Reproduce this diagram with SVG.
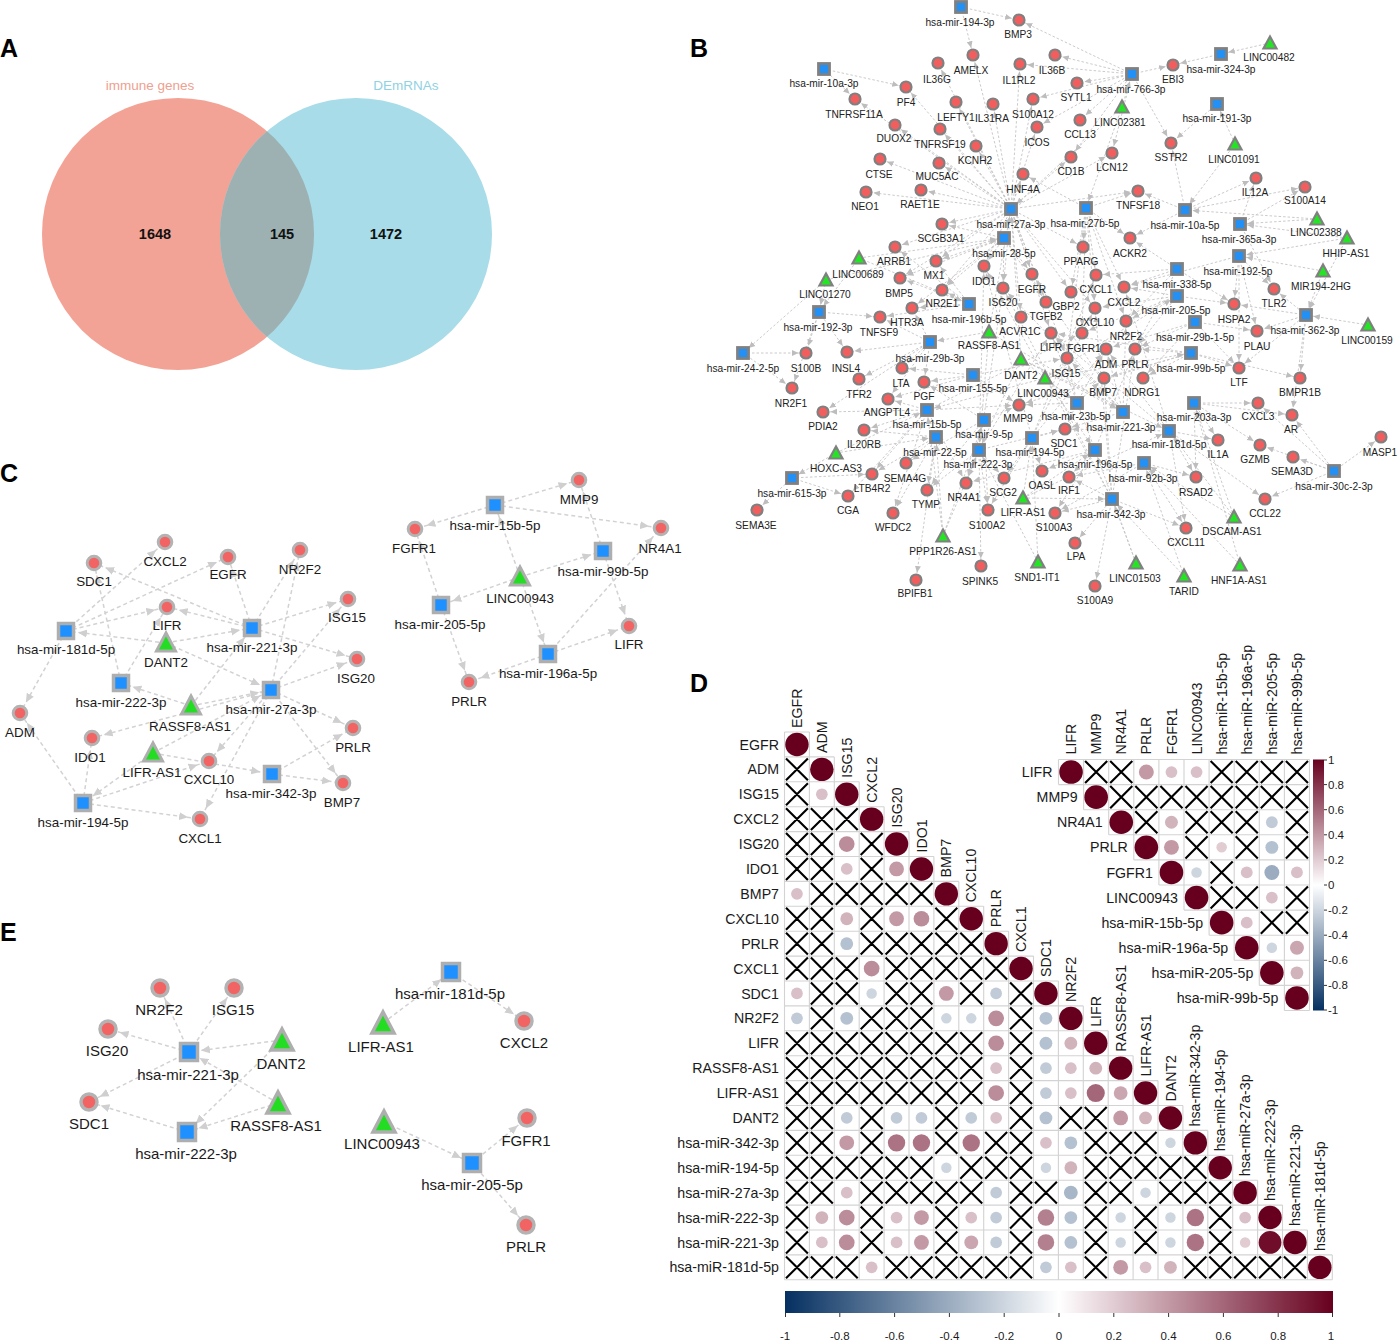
<svg xmlns="http://www.w3.org/2000/svg" xmlns:xlink="http://www.w3.org/1999/xlink" width="1398" height="1344" viewBox="0 0 1398 1344">
<style>
text{font-family:"Liberation Sans",Arial,Helvetica,sans-serif;fill:#1a1a1a}
.pl{font-weight:bold;font-size:25px;fill:#000}
.bl{font-size:10.2px;text-anchor:middle;fill:#222}
.cl{font-size:13.4px;text-anchor:middle}
.el{font-size:15px;text-anchor:middle}
.dl{font-size:14.2px}
.de{font-size:14.2px;text-anchor:end}
.tk{font-size:11.5px}
.tc{font-size:11.5px;text-anchor:middle}
.vn{font-size:14.5px;font-weight:bold;text-anchor:middle;fill:#111}
.be{fill:none;stroke:#c4c4c4;stroke-width:.9;stroke-dasharray:2.5 2;marker-end:url(#ab)}
.ce{fill:none;stroke:#d2d2d2;stroke-width:1.5;stroke-dasharray:4 3;marker-end:url(#ac)}
.dg{fill:#67001F}.p20{fill:#E1CCD2}.p25{fill:#D9BFC7}.p30{fill:#D1B3BC}.p35{fill:#CAA6B1}.p40{fill:#C299A5}.p45{fill:#BB8C9A}.p50{fill:#B3808F}.p55{fill:#AB7384}.p60{fill:#A46679}.p95{fill:#6F0D2A}
.n20{fill:#CDD6DF}.n25{fill:#C1CBD8}.n30{fill:#B4C1D0}.n35{fill:#A8B7C8}.n40{fill:#9BACC0}
</style>
<defs>
<marker id="ab" viewBox="0 0 8 8" refX="14" refY="4" markerWidth="8" markerHeight="8" markerUnits="userSpaceOnUse" orient="auto"><path d="M0,1L6.5,4L0,7z" fill="#bdbdbd"/></marker>
<marker id="ac" viewBox="0 0 10 10" refX="21" refY="5" markerWidth="10" markerHeight="10" markerUnits="userSpaceOnUse" orient="auto"><path d="M0,1L9,5L0,9z" fill="#cfcfcf"/></marker>
<circle id="bc" r="5.5" fill="#f25e5e" stroke="#808080" stroke-width="2.2"/>
<rect id="bs" x="-5.5" y="-5.5" width="11" height="11" fill="#2390f5" stroke="#808080" stroke-width="2.8"/>
<path id="bt" d="M0,-6.5L6.5,5.5L-6.5,5.5Z" fill="#22e622" stroke="#808080" stroke-width="2.2"/>
<circle id="cc" r="6.8" fill="#f26464" stroke="#b3b3b3" stroke-width="3"/>
<rect id="cs" x="-7.5" y="-7.5" width="15" height="15" fill="#1e90ff" stroke="#aeaeae" stroke-width="3.5"/>
<path id="ct" d="M0,-10L9.5,8L-9.5,8Z" fill="#22dd22" stroke="#aeaeae" stroke-width="3"/>
<circle id="ec" r="8" fill="#f26464" stroke="#b3b3b3" stroke-width="3.5"/>
<rect id="es" x="-8.5" y="-8.5" width="17" height="17" fill="#1e90ff" stroke="#aeaeae" stroke-width="3.5"/>
<path id="et" d="M0,-11L11,10L-11,10Z" fill="#22dd22" stroke="#aeaeae" stroke-width="3.5"/>
<clipPath id="vl"><circle cx="178" cy="234" r="136"/></clipPath>
<linearGradient id="gh" x1="0" x2="1" y1="0" y2="0"><stop offset="0" stop-color="#053061"/><stop offset=".5" stop-color="#ffffff"/><stop offset="1" stop-color="#67001F"/></linearGradient>
<linearGradient id="gv" x1="0" x2="0" y1="0" y2="1"><stop offset="0" stop-color="#67001F"/><stop offset=".5" stop-color="#ffffff"/><stop offset="1" stop-color="#053061"/></linearGradient>
</defs>
<rect width="1398" height="1344" fill="#fff"/>

<!-- panel letters -->
<text class="pl" x="0" y="57">A</text>
<text class="pl" x="690" y="57">B</text>
<text class="pl" x="0" y="482">C</text>
<text class="pl" x="690" y="692">D</text>
<text class="pl" x="0" y="941">E</text>

<!-- Panel A Venn -->
<g id="venn">
<circle id="venn-immune" cx="178" cy="234" r="136" fill="#F3A395"/>
<circle id="venn-demrna" cx="356" cy="234" r="136" fill="#A8DCE8"/>
<circle cx="356" cy="234" r="136" fill="#9DB0B2" clip-path="url(#vl)"/>
<text x="150" y="90" font-size="13.5" text-anchor="middle" style="fill:#EFA090">immune genes</text>
<text x="406" y="90" font-size="13.5" text-anchor="middle" style="fill:#8FD2E2">DEmRNAs</text>
<text class="vn" x="155" y="239">1648</text>
<text class="vn" x="282" y="239">145</text>
<text class="vn" x="386" y="239">1472</text>
</g>

<!-- Panel B edges -->
<g id="b-edges" class="be">
<path d="M1011 209L866 192"/><path d="M1011 209L921 190"/><path d="M1011 209L880 159"/><path d="M1011 209L939 163"/><path d="M1011 209L976 146"/><path d="M1011 209L940 129"/><path d="M1011 209L895 125"/><path d="M1011 209L956 102"/><path d="M1011 209L993 104"/><path d="M1011 209L906 87"/><path d="M1011 209L938 63"/><path d="M1011 209L973 55"/><path d="M1011 209L1037 127"/><path d="M1011 209L1033 99"/><path d="M1011 209L1023 174"/><path d="M1011 209L942 224"/><path d="M1011 209L895 247"/><path d="M1011 209L936 261"/><path d="M1011 209L984 266"/><path d="M1011 209L1032 274"/><path d="M1011 209L1003 288"/><path d="M1011 209L1071 292"/><path d="M1011 209L1095 308"/><path d="M1011 209L1046 302"/><path d="M1011 209L1021 317"/><path d="M1011 209L1051 333"/><path d="M1011 209L1067 358"/><path d="M1011 209L900 278"/><path d="M1011 209L942 290"/><path d="M1011 209L1138 191"/><path d="M1011 209L1071 157"/><path d="M1011 209L1112 153"/><path d="M1011 209L1083 247"/><path d="M1011 209L1020 64"/><path d="M1011 209L855 99"/>
<path d="M1086 208L1130 238"/><path d="M1086 208L1083 247"/><path d="M1086 208L1096 275"/><path d="M1086 208L1124 287"/><path d="M1086 208L1071 292"/><path d="M1086 208L1095 308"/><path d="M1086 208L1126 321"/><path d="M1086 208L1067 358"/><path d="M1086 208L1082 333"/><path d="M1086 208L1023 174"/><path d="M1086 208L1138 191"/>
<path d="M1004 238L984 266"/><path d="M1004 238L936 261"/><path d="M1004 238L942 224"/><path d="M1004 238L1032 274"/><path d="M1004 238L1003 288"/><path d="M1004 238L942 290"/><path d="M1004 238L900 278"/><path d="M1004 238L912 308"/><path d="M1004 238L1046 302"/>
<path d="M1132 74L1019 20"/><path d="M1132 74L1055 55"/><path d="M1132 74L1020 64"/><path d="M1132 74L1077 83"/><path d="M1132 74L1173 65"/><path d="M1132 74L1080 120"/><path d="M1132 74L1171 143"/><path d="M1132 74L1112 153"/><path d="M1132 74L1033 99"/><path d="M1132 74L1037 127"/><path d="M1132 74L1071 157"/>
<path d="M961 7L1019 20"/><path d="M961 7L973 55"/><path d="M824 69L855 99"/><path d="M824 69L906 87"/><path d="M1221 54L1173 65"/><path d="M1270 43L1221 54"/>
<path d="M1122 107L1132 74"/><path d="M1122 107L1011 209"/><path d="M1122 107L1086 208"/><path d="M1217 104L1171 143"/><path d="M1235 144L1185 210"/><path d="M1235 144L1217 104"/>
<path d="M1185 210L1256 178"/><path d="M1185 210L1138 191"/><path d="M1185 210L1130 238"/><path d="M1185 210L1171 143"/><path d="M1185 210L1305 187"/>
<path d="M1317 219L1185 210"/><path d="M1317 219L1240 224"/><path d="M1240 224L1305 187"/><path d="M1240 224L1256 178"/><path d="M1240 224L1274 289"/>
<path d="M1347 238L1239 256"/><path d="M1347 238L1240 224"/><path d="M1347 238L1306 315"/><path d="M1323 271L1306 315"/><path d="M1323 271L1239 256"/><path d="M1368 325L1306 315"/>
<path d="M1239 256L1274 289"/><path d="M1239 256L1234 304"/><path d="M1239 256L1124 287"/><path d="M1239 256L1257 331"/><path d="M1239 256L1239 368"/>
<path d="M1177 269L1124 287"/><path d="M1177 269L1130 238"/><path d="M1177 269L1126 321"/><path d="M1177 269L1096 275"/><path d="M1177 269L1135 349"/><path d="M1177 269L1234 304"/>
<path d="M1177 296L1126 321"/><path d="M1177 296L1135 349"/><path d="M1177 296L1082 333"/><path d="M1177 296L1234 304"/><path d="M1177 296L1095 308"/><path d="M1177 296L1124 287"/>
<path d="M1195 322L1106 349"/><path d="M1195 322L1143 378"/><path d="M1195 322L1257 331"/><path d="M1195 322L1239 368"/><path d="M1195 322L1135 349"/>
<path d="M1306 315L1257 331"/><path d="M1306 315L1274 289"/><path d="M1306 315L1300 378"/><path d="M1306 315L1239 368"/><path d="M1306 315L1234 304"/><path d="M1306 315L1292 415"/>
<path d="M1191 353L1135 349"/><path d="M1191 353L1143 378"/><path d="M1191 353L1239 368"/><path d="M1191 353L1051 333"/><path d="M1191 353L1019 405"/><path d="M1191 353L1104 378"/><path d="M1191 353L1300 378"/>
<path d="M1045 378L1191 353"/><path d="M1045 378L927 410"/><path d="M1045 378L1095 450"/><path d="M1045 378L1177 296"/><path d="M1045 378L1077 403"/>
<path d="M1021 359L1123 412"/><path d="M1021 359L1011 209"/><path d="M1021 359L1169 431"/><path d="M1021 359L979 450"/><path d="M1021 359L1077 403"/>
<path d="M989 332L1123 412"/><path d="M989 332L1011 209"/><path d="M989 332L979 450"/><path d="M989 332L930 342"/>
<path d="M1023 498L1032 438"/><path d="M1023 498L1112 499"/><path d="M1023 498L1169 431"/><path d="M1023 498L1095 450"/>
<path d="M1123 412L1065 429"/><path d="M1123 412L1051 333"/><path d="M1123 412L1067 358"/><path d="M1123 412L1003 288"/><path d="M1123 412L1126 321"/><path d="M1123 412L1032 274"/><path d="M1123 412L1106 349"/>
<path d="M1077 403L1065 429"/><path d="M1077 403L1106 349"/><path d="M1077 403L1104 378"/><path d="M1077 403L1067 358"/><path d="M1077 403L1019 405"/>
<path d="M1095 450L1069 477"/><path d="M1095 450L1051 333"/><path d="M1095 450L1135 349"/><path d="M1095 450L1042 471"/><path d="M1095 450L966 483"/><path d="M1095 450L1055 513"/>
<path d="M1169 431L1218 440"/><path d="M1169 431L1186 528"/><path d="M1169 431L1065 429"/><path d="M1169 431L1106 349"/><path d="M1169 431L1124 287"/><path d="M1169 431L1051 333"/><path d="M1169 431L1196 477"/><path d="M1169 431L1265 499"/>
<path d="M1194 403L1258 403"/><path d="M1194 403L1218 440"/><path d="M1194 403L1260 445"/><path d="M1194 403L1196 477"/><path d="M1194 403L1292 415"/>
<path d="M1334 471L1381 437"/><path d="M1334 471L1265 499"/><path d="M1334 471L1293 457"/><path d="M1334 471L1292 415"/><path d="M1334 471L1260 445"/><path d="M1334 471L1258 403"/>
<path d="M1144 463L1196 477"/><path d="M1144 463L1186 528"/><path d="M1144 463L1069 477"/><path d="M1144 463L1055 513"/>
<path d="M1234 517L1144 463"/><path d="M1234 517L1169 431"/><path d="M1234 517L1194 403"/><path d="M1240 565L1144 463"/><path d="M1240 565L1194 403"/>
<path d="M1184 576L1112 499"/><path d="M1184 576L1144 463"/><path d="M1136 563L1112 499"/><path d="M1136 563L1095 450"/><path d="M1038 562L1032 438"/><path d="M1038 562L979 450"/>
<path d="M1112 499L1055 513"/><path d="M1112 499L1075 543"/><path d="M1112 499L1095 586"/><path d="M1112 499L1069 477"/><path d="M1112 499L1104 378"/><path d="M1112 499L1135 349"/><path d="M1112 499L1095 308"/><path d="M1112 499L1003 288"/><path d="M1112 499L984 266"/><path d="M1112 499L1186 528"/>
<path d="M1032 438L1004 478"/><path d="M1032 438L1042 471"/><path d="M1032 438L1096 275"/><path d="M1032 438L1106 349"/><path d="M1032 438L984 266"/><path d="M1032 438L1095 308"/><path d="M1032 438L988 510"/><path d="M1032 438L1065 429"/>
<path d="M979 450L966 483"/><path d="M979 450L1004 478"/><path d="M979 450L988 510"/><path d="M979 450L981 566"/><path d="M979 450L1065 429"/><path d="M979 450L1051 333"/><path d="M979 450L984 266"/><path d="M979 450L1003 288"/><path d="M979 450L927 490"/>
<path d="M984 420L966 483"/><path d="M984 420L927 490"/><path d="M984 420L1019 405"/><path d="M984 420L988 510"/><path d="M984 420L906 463"/><path d="M984 420L924 382"/>
<path d="M943 536L936 437"/><path d="M943 536L979 450"/><path d="M943 536L984 420"/><path d="M943 536L927 410"/>
<path d="M936 437L916 580"/><path d="M936 437L893 513"/><path d="M936 437L927 490"/><path d="M936 437L906 463"/><path d="M936 437L864 430"/><path d="M936 437L872 474"/>
<path d="M927 410L1019 405"/><path d="M927 410L966 483"/><path d="M927 410L888 399"/><path d="M927 410L823 412"/><path d="M927 410L864 430"/><path d="M927 410L893 513"/><path d="M927 410L872 474"/><path d="M927 410L848 496"/><path d="M927 410L1082 333"/>
<path d="M792 478L757 510"/><path d="M792 478L848 496"/><path d="M792 478L872 474"/><path d="M836 453L792 478"/><path d="M836 453L927 410"/><path d="M836 453L936 437"/>
<path d="M743 353L806 353"/><path d="M743 353L792 388"/><path d="M819 312L880 317"/><path d="M819 312L806 353"/><path d="M819 312L847 352"/><path d="M819 312L792 388"/>
<path d="M826 280L819 312"/><path d="M826 280L743 353"/><path d="M826 280L1004 238"/><path d="M859 258L819 312"/><path d="M859 258L1004 238"/><path d="M859 258L969 304"/>
<path d="M930 342L902 368"/><path d="M930 342L847 352"/><path d="M930 342L859 379"/><path d="M930 342L912 308"/><path d="M930 342L880 317"/><path d="M930 342L924 382"/><path d="M930 342L888 399"/><path d="M930 342L823 412"/>
<path d="M973 375L924 382"/><path d="M973 375L902 368"/><path d="M973 375L1067 358"/><path d="M973 375L1019 405"/><path d="M973 375L888 399"/>
<path d="M969 304L942 290"/><path d="M969 304L912 308"/><path d="M969 304L900 278"/><path d="M969 304L936 261"/><path d="M969 304L880 317"/><path d="M969 304L895 247"/>
</g>

<!-- Panel B nodes -->
<g id="b-hsa-mir-194-3p"><use href="#bs" x="961" y="7"/><text class="bl" x="960" y="25.5">hsa-mir-194-3p</text></g>
<g id="b-BMP3"><use href="#bc" x="1019" y="20"/><text class="bl" x="1018" y="37.5">BMP3</text></g>
<g id="b-AMELX"><use href="#bc" x="973" y="55"/><text class="bl" x="971" y="73.5">AMELX</text></g>
<g id="b-IL36G"><use href="#bc" x="938" y="63"/><text class="bl" x="937" y="82.5">IL36G</text></g>
<g id="b-IL1RL2"><use href="#bc" x="1020" y="64"/><text class="bl" x="1019" y="83.5">IL1RL2</text></g>
<g id="b-IL36B"><use href="#bc" x="1055" y="55"/><text class="bl" x="1052" y="73.5">IL36B</text></g>
<g id="b-hsa-mir-10a-3p"><use href="#bs" x="824" y="69"/><text class="bl" x="824" y="86.5">hsa-mir-10a-3p</text></g>
<g id="b-PF4"><use href="#bc" x="906" y="87"/><text class="bl" x="906" y="105.5">PF4</text></g>
<g id="b-TNFRSF11A"><use href="#bc" x="855" y="99"/><text class="bl" x="854" y="117.5">TNFRSF11A</text></g>
<g id="b-LEFTY1"><use href="#bc" x="956" y="102"/><text class="bl" x="956" y="120.5">LEFTY1</text></g>
<g id="b-IL31RA"><use href="#bc" x="993" y="104"/><text class="bl" x="992" y="121.5">IL31RA</text></g>
<g id="b-S100A12"><use href="#bc" x="1033" y="99"/><text class="bl" x="1033" y="117.5">S100A12</text></g>
<g id="b-DUOX2"><use href="#bc" x="895" y="125"/><text class="bl" x="894" y="141.5">DUOX2</text></g>
<g id="b-TNFRSF19"><use href="#bc" x="940" y="129"/><text class="bl" x="940" y="147.5">TNFRSF19</text></g>
<g id="b-ICOS"><use href="#bc" x="1037" y="127"/><text class="bl" x="1037" y="145.5">ICOS</text></g>
<g id="b-KCNH2"><use href="#bc" x="976" y="146"/><text class="bl" x="975" y="163.5">KCNH2</text></g>
<g id="b-CTSE"><use href="#bc" x="880" y="159"/><text class="bl" x="879" y="177.5">CTSE</text></g>
<g id="b-MUC5AC"><use href="#bc" x="939" y="163"/><text class="bl" x="937" y="179.5">MUC5AC</text></g>
<g id="b-HNF4A"><use href="#bc" x="1023" y="174"/><text class="bl" x="1023" y="192.5">HNF4A</text></g>
<g id="b-NEO1"><use href="#bc" x="866" y="192"/><text class="bl" x="865" y="209.5">NEO1</text></g>
<g id="b-RAET1E"><use href="#bc" x="921" y="190"/><text class="bl" x="920" y="207.5">RAET1E</text></g>
<g id="b-SYTL1"><use href="#bc" x="1077" y="83"/><text class="bl" x="1076" y="100.5">SYTL1</text></g>
<g id="b-hsa-mir-766-3p"><use href="#bs" x="1132" y="74"/><text class="bl" x="1131" y="92.5">hsa-mir-766-3p</text></g>
<g id="b-EBI3"><use href="#bc" x="1173" y="65"/><text class="bl" x="1173" y="82.5">EBI3</text></g>
<g id="b-hsa-mir-324-3p"><use href="#bs" x="1221" y="54"/><text class="bl" x="1221" y="72.5">hsa-mir-324-3p</text></g>
<g id="b-LINC00482"><use href="#bt" x="1270" y="43"/><text class="bl" x="1269" y="60.5">LINC00482</text></g>
<g id="b-LINC02381"><use href="#bt" x="1122" y="107"/><text class="bl" x="1120" y="125.5">LINC02381</text></g>
<g id="b-CCL13"><use href="#bc" x="1080" y="120"/><text class="bl" x="1080" y="137.5">CCL13</text></g>
<g id="b-hsa-mir-191-3p"><use href="#bs" x="1217" y="104"/><text class="bl" x="1217" y="121.5">hsa-mir-191-3p</text></g>
<g id="b-SSTR2"><use href="#bc" x="1171" y="143"/><text class="bl" x="1171" y="160.5">SSTR2</text></g>
<g id="b-LINC01091"><use href="#bt" x="1235" y="144"/><text class="bl" x="1234" y="162.5">LINC01091</text></g>
<g id="b-CD1B"><use href="#bc" x="1071" y="157"/><text class="bl" x="1071" y="174.5">CD1B</text></g>
<g id="b-LCN12"><use href="#bc" x="1112" y="153"/><text class="bl" x="1112" y="170.5">LCN12</text></g>
<g id="b-IL12A"><use href="#bc" x="1256" y="178"/><text class="bl" x="1255" y="195.5">IL12A</text></g>
<g id="b-S100A14"><use href="#bc" x="1305" y="187"/><text class="bl" x="1305" y="203.5">S100A14</text></g>
<g id="b-TNFSF18"><use href="#bc" x="1138" y="191"/><text class="bl" x="1138" y="208.5">TNFSF18</text></g>
<g id="b-hsa-mir-27a-3p"><use href="#bs" x="1011" y="209"/><text class="bl" x="1011" y="227.5">hsa-mir-27a-3p</text></g>
<g id="b-hsa-mir-27b-5p"><use href="#bs" x="1086" y="208"/><text class="bl" x="1085" y="226.5">hsa-mir-27b-5p</text></g>
<g id="b-hsa-mir-10a-5p"><use href="#bs" x="1185" y="210"/><text class="bl" x="1185" y="228.5">hsa-mir-10a-5p</text></g>
<g id="b-LINC02388"><use href="#bt" x="1317" y="219"/><text class="bl" x="1316" y="235.5">LINC02388</text></g>
<g id="b-hsa-mir-365a-3p"><use href="#bs" x="1240" y="224"/><text class="bl" x="1239" y="242.5">hsa-mir-365a-3p</text></g>
<g id="b-HHIP-AS1"><use href="#bt" x="1347" y="238"/><text class="bl" x="1346" y="256.5">HHIP-AS1</text></g>
<g id="b-SCGB3A1"><use href="#bc" x="942" y="224"/><text class="bl" x="941" y="241.5">SCGB3A1</text></g>
<g id="b-hsa-mir-28-5p"><use href="#bs" x="1004" y="238"/><text class="bl" x="1004" y="256.5">hsa-mir-28-5p</text></g>
<g id="b-ACKR2"><use href="#bc" x="1130" y="238"/><text class="bl" x="1130" y="256.5">ACKR2</text></g>
<g id="b-PPARG"><use href="#bc" x="1083" y="247"/><text class="bl" x="1081" y="264.5">PPARG</text></g>
<g id="b-ARRB1"><use href="#bc" x="895" y="247"/><text class="bl" x="894" y="264.5">ARRB1</text></g>
<g id="b-LINC00689"><use href="#bt" x="859" y="258"/><text class="bl" x="858" y="277.5">LINC00689</text></g>
<g id="b-MX1"><use href="#bc" x="936" y="261"/><text class="bl" x="934" y="278.5">MX1</text></g>
<g id="b-IDO1"><use href="#bc" x="984" y="266"/><text class="bl" x="984" y="284.5">IDO1</text></g>
<g id="b-LINC01270"><use href="#bt" x="826" y="280"/><text class="bl" x="825" y="297.5">LINC01270</text></g>
<g id="b-BMP5"><use href="#bc" x="900" y="278"/><text class="bl" x="899" y="296.5">BMP5</text></g>
<g id="b-EGFR"><use href="#bc" x="1032" y="274"/><text class="bl" x="1032" y="292.5">EGFR</text></g>
<g id="b-ISG20"><use href="#bc" x="1003" y="288"/><text class="bl" x="1003" y="305.5">ISG20</text></g>
<g id="b-NR2E1"><use href="#bc" x="942" y="290"/><text class="bl" x="942" y="306.5">NR2E1</text></g>
<g id="b-hsa-mir-192-5p"><use href="#bs" x="1239" y="256"/><text class="bl" x="1238" y="274.5">hsa-mir-192-5p</text></g>
<g id="b-MIR194-2HG"><use href="#bt" x="1323" y="271"/><text class="bl" x="1321" y="289.5">MIR194-2HG</text></g>
<g id="b-CXCL1"><use href="#bc" x="1096" y="275"/><text class="bl" x="1096" y="292.5">CXCL1</text></g>
<g id="b-hsa-mir-338-5p"><use href="#bs" x="1177" y="269"/><text class="bl" x="1177" y="287.5">hsa-mir-338-5p</text></g>
<g id="b-TLR2"><use href="#bc" x="1274" y="289"/><text class="bl" x="1274" y="306.5">TLR2</text></g>
<g id="b-CXCL2"><use href="#bc" x="1124" y="287"/><text class="bl" x="1124" y="305.5">CXCL2</text></g>
<g id="b-GBP2"><use href="#bc" x="1071" y="292"/><text class="bl" x="1066" y="309.5">GBP2</text></g>
<g id="b-hsa-mir-192-3p"><use href="#bs" x="819" y="312"/><text class="bl" x="818" y="330.5">hsa-mir-192-3p</text></g>
<g id="b-hsa-mir-196b-5p"><use href="#bs" x="969" y="304"/><text class="bl" x="969" y="322.5">hsa-mir-196b-5p</text></g>
<g id="b-HTR3A"><use href="#bc" x="912" y="308"/><text class="bl" x="907" y="325.5">HTR3A</text></g>
<g id="b-TNFSF9"><use href="#bc" x="880" y="317"/><text class="bl" x="879" y="335.5">TNFSF9</text></g>
<g id="b-TGFB2"><use href="#bc" x="1046" y="302"/><text class="bl" x="1046" y="319.5">TGFB2</text></g>
<g id="b-ACVR1C"><use href="#bc" x="1021" y="317"/><text class="bl" x="1020" y="334.5">ACVR1C</text></g>
<g id="b-hsa-mir-205-5p"><use href="#bs" x="1177" y="296"/><text class="bl" x="1176" y="313.5">hsa-mir-205-5p</text></g>
<g id="b-HSPA2"><use href="#bc" x="1234" y="304"/><text class="bl" x="1234" y="322.5">HSPA2</text></g>
<g id="b-CXCL10"><use href="#bc" x="1095" y="308"/><text class="bl" x="1095" y="325.5">CXCL10</text></g>
<g id="b-NR2F2"><use href="#bc" x="1126" y="321"/><text class="bl" x="1126" y="339.5">NR2F2</text></g>
<g id="b-hsa-mir-362-3p"><use href="#bs" x="1306" y="315"/><text class="bl" x="1305" y="333.5">hsa-mir-362-3p</text></g>
<g id="b-LINC00159"><use href="#bt" x="1368" y="325"/><text class="bl" x="1367" y="343.5">LINC00159</text></g>
<g id="b-RASSF8-AS1"><use href="#bt" x="989" y="332"/><text class="bl" x="989" y="348.5">RASSF8-AS1</text></g>
<g id="b-LIFR"><use href="#bc" x="1051" y="333"/><text class="bl" x="1051" y="350.5">LIFR</text></g>
<g id="b-FGFR1"><use href="#bc" x="1082" y="333"/><text class="bl" x="1084" y="351.5">FGFR1</text></g>
<g id="b-hsa-mir-29b-1-5p"><use href="#bs" x="1195" y="322"/><text class="bl" x="1195" y="340.5">hsa-mir-29b-1-5p</text></g>
<g id="b-PLAU"><use href="#bc" x="1257" y="331"/><text class="bl" x="1257" y="349.5">PLAU</text></g>
<g id="b-hsa-mir-29b-3p"><use href="#bs" x="930" y="342"/><text class="bl" x="930" y="361.5">hsa-mir-29b-3p</text></g>
<g id="b-hsa-mir-24-2-5p"><use href="#bs" x="743" y="353"/><text class="bl" x="743" y="371.5">hsa-mir-24-2-5p</text></g>
<g id="b-S100B"><use href="#bc" x="806" y="353"/><text class="bl" x="806" y="371.5">S100B</text></g>
<g id="b-INSL4"><use href="#bc" x="847" y="352"/><text class="bl" x="846" y="371.5">INSL4</text></g>
<g id="b-ADM"><use href="#bc" x="1106" y="349"/><text class="bl" x="1106" y="367.5">ADM</text></g>
<g id="b-PRLR"><use href="#bc" x="1135" y="349"/><text class="bl" x="1135" y="367.5">PRLR</text></g>
<g id="b-hsa-mir-99b-5p"><use href="#bs" x="1191" y="353"/><text class="bl" x="1191" y="371.5">hsa-mir-99b-5p</text></g>
<g id="b-ISG15"><use href="#bc" x="1067" y="358"/><text class="bl" x="1066" y="376.5">ISG15</text></g>
<g id="b-DANT2"><use href="#bt" x="1021" y="359"/><text class="bl" x="1021" y="378.5">DANT2</text></g>
<g id="b-LTA"><use href="#bc" x="902" y="368"/><text class="bl" x="901" y="386.5">LTA</text></g>
<g id="b-LTF"><use href="#bc" x="1239" y="368"/><text class="bl" x="1239" y="385.5">LTF</text></g>
<g id="b-hsa-mir-155-5p"><use href="#bs" x="973" y="375"/><text class="bl" x="973" y="391.5">hsa-mir-155-5p</text></g>
<g id="b-LINC00943"><use href="#bt" x="1045" y="378"/><text class="bl" x="1043" y="396.5">LINC00943</text></g>
<g id="b-BMP7"><use href="#bc" x="1104" y="378"/><text class="bl" x="1103" y="395.5">BMP7</text></g>
<g id="b-NDRG1"><use href="#bc" x="1143" y="378"/><text class="bl" x="1142" y="395.5">NDRG1</text></g>
<g id="b-BMPR1B"><use href="#bc" x="1300" y="378"/><text class="bl" x="1300" y="395.5">BMPR1B</text></g>
<g id="b-TFR2"><use href="#bc" x="859" y="379"/><text class="bl" x="859" y="397.5">TFR2</text></g>
<g id="b-PGF"><use href="#bc" x="924" y="382"/><text class="bl" x="924" y="399.5">PGF</text></g>
<g id="b-NR2F1"><use href="#bc" x="792" y="388"/><text class="bl" x="791" y="406.5">NR2F1</text></g>
<g id="b-ANGPTL4"><use href="#bc" x="888" y="399"/><text class="bl" x="887" y="415.5">ANGPTL4</text></g>
<g id="b-PDIA2"><use href="#bc" x="823" y="412"/><text class="bl" x="823" y="429.5">PDIA2</text></g>
<g id="b-hsa-mir-15b-5p"><use href="#bs" x="927" y="410"/><text class="bl" x="927" y="427.5">hsa-mir-15b-5p</text></g>
<g id="b-MMP9"><use href="#bc" x="1019" y="405"/><text class="bl" x="1018" y="421.5">MMP9</text></g>
<g id="b-hsa-mir-23b-5p"><use href="#bs" x="1077" y="403"/><text class="bl" x="1076" y="419.5">hsa-mir-23b-5p</text></g>
<g id="b-hsa-mir-221-3p"><use href="#bs" x="1123" y="412"/><text class="bl" x="1121" y="430.5">hsa-mir-221-3p</text></g>
<g id="b-hsa-mir-203a-3p"><use href="#bs" x="1194" y="403"/><text class="bl" x="1194" y="420.5">hsa-mir-203a-3p</text></g>
<g id="b-CXCL3"><use href="#bc" x="1258" y="403"/><text class="bl" x="1258" y="419.5">CXCL3</text></g>
<g id="b-AR"><use href="#bc" x="1292" y="415"/><text class="bl" x="1291" y="432.5">AR</text></g>
<g id="b-hsa-mir-9-5p"><use href="#bs" x="984" y="420"/><text class="bl" x="984" y="437.5">hsa-mir-9-5p</text></g>
<g id="b-IL20RB"><use href="#bc" x="864" y="430"/><text class="bl" x="864" y="447.5">IL20RB</text></g>
<g id="b-SDC1"><use href="#bc" x="1065" y="429"/><text class="bl" x="1064" y="446.5">SDC1</text></g>
<g id="b-hsa-mir-181d-5p"><use href="#bs" x="1169" y="431"/><text class="bl" x="1169" y="447.5">hsa-mir-181d-5p</text></g>
<g id="b-IL1A"><use href="#bc" x="1218" y="440"/><text class="bl" x="1218" y="457.5">IL1A</text></g>
<g id="b-MASP1"><use href="#bc" x="1381" y="437"/><text class="bl" x="1380" y="455.5">MASP1</text></g>
<g id="b-hsa-mir-22-5p"><use href="#bs" x="936" y="437"/><text class="bl" x="935" y="455.5">hsa-mir-22-5p</text></g>
<g id="b-hsa-mir-194-5p"><use href="#bs" x="1032" y="438"/><text class="bl" x="1030" y="455.5">hsa-mir-194-5p</text></g>
<g id="b-hsa-mir-196a-5p"><use href="#bs" x="1095" y="450"/><text class="bl" x="1095" y="467.5">hsa-mir-196a-5p</text></g>
<g id="b-GZMB"><use href="#bc" x="1260" y="445"/><text class="bl" x="1255" y="462.5">GZMB</text></g>
<g id="b-HOXC-AS3"><use href="#bt" x="836" y="453"/><text class="bl" x="836" y="471.5">HOXC-AS3</text></g>
<g id="b-hsa-mir-222-3p"><use href="#bs" x="979" y="450"/><text class="bl" x="978" y="467.5">hsa-mir-222-3p</text></g>
<g id="b-SEMA3D"><use href="#bc" x="1293" y="457"/><text class="bl" x="1292" y="474.5">SEMA3D</text></g>
<g id="b-SEMA4G"><use href="#bc" x="906" y="463"/><text class="bl" x="905" y="481.5">SEMA4G</text></g>
<g id="b-hsa-mir-92b-3p"><use href="#bs" x="1144" y="463"/><text class="bl" x="1143" y="481.5">hsa-mir-92b-3p</text></g>
<g id="b-OASL"><use href="#bc" x="1042" y="471"/><text class="bl" x="1042" y="488.5">OASL</text></g>
<g id="b-hsa-mir-30c-2-3p"><use href="#bs" x="1334" y="471"/><text class="bl" x="1334" y="489.5">hsa-mir-30c-2-3p</text></g>
<g id="b-LTB4R2"><use href="#bc" x="872" y="474"/><text class="bl" x="872" y="491.5">LTB4R2</text></g>
<g id="b-hsa-mir-615-3p"><use href="#bs" x="792" y="478"/><text class="bl" x="792" y="496.5">hsa-mir-615-3p</text></g>
<g id="b-SCG2"><use href="#bc" x="1004" y="478"/><text class="bl" x="1003" y="495.5">SCG2</text></g>
<g id="b-IRF1"><use href="#bc" x="1069" y="477"/><text class="bl" x="1069" y="493.5">IRF1</text></g>
<g id="b-RSAD2"><use href="#bc" x="1196" y="477"/><text class="bl" x="1196" y="495.5">RSAD2</text></g>
<g id="b-NR4A1"><use href="#bc" x="966" y="483"/><text class="bl" x="964" y="500.5">NR4A1</text></g>
<g id="b-TYMP"><use href="#bc" x="927" y="490"/><text class="bl" x="926" y="507.5">TYMP</text></g>
<g id="b-CGA"><use href="#bc" x="848" y="496"/><text class="bl" x="848" y="513.5">CGA</text></g>
<g id="b-LIFR-AS1"><use href="#bt" x="1023" y="498"/><text class="bl" x="1023" y="515.5">LIFR-AS1</text></g>
<g id="b-hsa-mir-342-3p"><use href="#bs" x="1112" y="499"/><text class="bl" x="1111" y="517.5">hsa-mir-342-3p</text></g>
<g id="b-CCL22"><use href="#bc" x="1265" y="499"/><text class="bl" x="1265" y="516.5">CCL22</text></g>
<g id="b-SEMA3E"><use href="#bc" x="757" y="510"/><text class="bl" x="756" y="528.5">SEMA3E</text></g>
<g id="b-S100A2"><use href="#bc" x="988" y="510"/><text class="bl" x="987" y="528.5">S100A2</text></g>
<g id="b-WFDC2"><use href="#bc" x="893" y="513"/><text class="bl" x="893" y="530.5">WFDC2</text></g>
<g id="b-S100A3"><use href="#bc" x="1055" y="513"/><text class="bl" x="1054" y="530.5">S100A3</text></g>
<g id="b-DSCAM-AS1"><use href="#bt" x="1234" y="517"/><text class="bl" x="1232" y="534.5">DSCAM-AS1</text></g>
<g id="b-CXCL11"><use href="#bc" x="1186" y="528"/><text class="bl" x="1186" y="545.5">CXCL11</text></g>
<g id="b-PPP1R26-AS1"><use href="#bt" x="943" y="536"/><text class="bl" x="943" y="554.5">PPP1R26-AS1</text></g>
<g id="b-LPA"><use href="#bc" x="1075" y="543"/><text class="bl" x="1076" y="559.5">LPA</text></g>
<g id="b-SND1-IT1"><use href="#bt" x="1038" y="562"/><text class="bl" x="1037" y="580.5">SND1-IT1</text></g>
<g id="b-LINC01503"><use href="#bt" x="1136" y="563"/><text class="bl" x="1135" y="581.5">LINC01503</text></g>
<g id="b-HNF1A-AS1"><use href="#bt" x="1240" y="565"/><text class="bl" x="1239" y="583.5">HNF1A-AS1</text></g>
<g id="b-SPINK5"><use href="#bc" x="981" y="566"/><text class="bl" x="980" y="584.5">SPINK5</text></g>
<g id="b-TARID"><use href="#bt" x="1184" y="576"/><text class="bl" x="1184" y="594.5">TARID</text></g>
<g id="b-BPIFB1"><use href="#bc" x="916" y="580"/><text class="bl" x="915" y="596.5">BPIFB1</text></g>
<g id="b-S100A9"><use href="#bc" x="1095" y="586"/><text class="bl" x="1095" y="603.5">S100A9</text></g>

<!-- Panel C edges -->
<g id="c-edges" class="ce">
<path d="M166 643L66 631"/><path d="M166 643L252 628"/><path d="M166 643L271 690"/>
<path d="M191 706L252 628"/><path d="M191 706L271 690"/><path d="M191 706L121 683"/>
<path d="M153 753L83 803"/><path d="M153 753L272 774"/><path d="M153 753L271 690"/>
<path d="M66 631L165 542"/><path d="M66 631L228 557"/><path d="M66 631L167 607"/><path d="M66 631L20 713"/>
<path d="M252 628L94 563"/><path d="M252 628L228 557"/><path d="M252 628L300 550"/><path d="M252 628L348 599"/><path d="M252 628L357 659"/><path d="M252 628L167 607"/>
<path d="M121 683L94 563"/><path d="M121 683L167 607"/>
<path d="M271 690L348 599"/><path d="M271 690L357 659"/><path d="M271 690L353 728"/><path d="M271 690L343 783"/><path d="M271 690L209 761"/><path d="M271 690L92 738"/><path d="M271 690L300 550"/><path d="M271 690L200 819"/>
<path d="M272 774L353 728"/><path d="M272 774L343 783"/>
<path d="M83 803L200 819"/><path d="M83 803L20 713"/><path d="M83 803L92 738"/><path d="M83 803L209 761"/>
<path d="M495 505L579 480"/><path d="M495 505L415 529"/><path d="M495 505L661 528"/>
<path d="M520 577L495 505"/><path d="M520 577L441 605"/><path d="M520 577L603 551"/><path d="M520 577L548 654"/>
<path d="M441 605L469 682"/><path d="M441 605L415 529"/>
<path d="M603 551L579 480"/><path d="M603 551L629 626"/>
<path d="M548 654L629 626"/><path d="M548 654L469 682"/><path d="M548 654L661 528"/>
</g>

<!-- Panel C nodes -->
<g id="c1-SDC1"><use href="#cc" x="94" y="563"/><text class="cl" x="94" y="586">SDC1</text></g>
<g id="c1-CXCL2"><use href="#cc" x="165" y="542"/><text class="cl" x="165" y="566">CXCL2</text></g>
<g id="c1-EGFR"><use href="#cc" x="228" y="557"/><text class="cl" x="228" y="579">EGFR</text></g>
<g id="c1-NR2F2"><use href="#cc" x="300" y="550"/><text class="cl" x="300" y="574">NR2F2</text></g>
<g id="c1-ISG15"><use href="#cc" x="348" y="599"/><text class="cl" x="347" y="622">ISG15</text></g>
<g id="c1-LIFR"><use href="#cc" x="167" y="607"/><text class="cl" x="167" y="630">LIFR</text></g>
<g id="c1-hsa-mir-181d-5p"><use href="#cs" x="66" y="631"/><text class="cl" x="66" y="654">hsa-mir-181d-5p</text></g>
<g id="c1-DANT2"><use href="#ct" x="166" y="643"/><text class="cl" x="166" y="667">DANT2</text></g>
<g id="c1-hsa-mir-221-3p"><use href="#cs" x="252" y="628"/><text class="cl" x="252" y="652">hsa-mir-221-3p</text></g>
<g id="c1-ISG20"><use href="#cc" x="357" y="659"/><text class="cl" x="356" y="683">ISG20</text></g>
<g id="c1-hsa-mir-222-3p"><use href="#cs" x="121" y="683"/><text class="cl" x="121" y="707">hsa-mir-222-3p</text></g>
<g id="c1-hsa-mir-27a-3p"><use href="#cs" x="271" y="690"/><text class="cl" x="271" y="714">hsa-mir-27a-3p</text></g>
<g id="c1-RASSF8-AS1"><use href="#ct" x="191" y="706"/><text class="cl" x="190" y="731">RASSF8-AS1</text></g>
<g id="c1-ADM"><use href="#cc" x="20" y="713"/><text class="cl" x="20" y="737">ADM</text></g>
<g id="c1-IDO1"><use href="#cc" x="92" y="738"/><text class="cl" x="90" y="762">IDO1</text></g>
<g id="c1-PRLR"><use href="#cc" x="353" y="728"/><text class="cl" x="353" y="752">PRLR</text></g>
<g id="c1-LIFR-AS1"><use href="#ct" x="153" y="753"/><text class="cl" x="152" y="777">LIFR-AS1</text></g>
<g id="c1-CXCL10"><use href="#cc" x="209" y="761"/><text class="cl" x="209" y="784">CXCL10</text></g>
<g id="c1-hsa-mir-342-3p"><use href="#cs" x="272" y="774"/><text class="cl" x="271" y="798">hsa-mir-342-3p</text></g>
<g id="c1-BMP7"><use href="#cc" x="343" y="783"/><text class="cl" x="342" y="807">BMP7</text></g>
<g id="c1-hsa-mir-194-5p"><use href="#cs" x="83" y="803"/><text class="cl" x="83" y="827">hsa-mir-194-5p</text></g>
<g id="c1-CXCL1"><use href="#cc" x="200" y="819"/><text class="cl" x="200" y="843">CXCL1</text></g>
<g id="c2-MMP9"><use href="#cc" x="579" y="480"/><text class="cl" x="579" y="504">MMP9</text></g>
<g id="c2-hsa-mir-15b-5p"><use href="#cs" x="495" y="505"/><text class="cl" x="495" y="530">hsa-mir-15b-5p</text></g>
<g id="c2-FGFR1"><use href="#cc" x="415" y="529"/><text class="cl" x="414" y="553">FGFR1</text></g>
<g id="c2-NR4A1"><use href="#cc" x="661" y="528"/><text class="cl" x="660" y="553">NR4A1</text></g>
<g id="c2-hsa-mir-99b-5p"><use href="#cs" x="603" y="551"/><text class="cl" x="603" y="576">hsa-mir-99b-5p</text></g>
<g id="c2-LINC00943"><use href="#ct" x="520" y="577"/><text class="cl" x="520" y="603">LINC00943</text></g>
<g id="c2-hsa-mir-205-5p"><use href="#cs" x="441" y="605"/><text class="cl" x="440" y="629">hsa-mir-205-5p</text></g>
<g id="c2-LIFR"><use href="#cc" x="629" y="626"/><text class="cl" x="629" y="649">LIFR</text></g>
<g id="c2-hsa-mir-196a-5p"><use href="#cs" x="548" y="654"/><text class="cl" x="548" y="678">hsa-mir-196a-5p</text></g>
<g id="c2-PRLR"><use href="#cc" x="469" y="682"/><text class="cl" x="469" y="706">PRLR</text></g>

<!-- Panel E edges -->
<g id="e-edges" class="ce">
<path d="M282 1040L189 1052"/><path d="M278 1103L189 1052"/><path d="M282 1040L187 1132"/><path d="M278 1103L187 1132"/>
<path d="M189 1052L160 988"/><path d="M189 1052L234 988"/><path d="M189 1052L108 1029"/><path d="M189 1052L89 1102"/><path d="M187 1132L89 1102"/>
<path d="M383 1023L451 972"/><path d="M451 972L524 1021"/>
<path d="M384 1122L472 1163"/><path d="M472 1163L527 1118"/><path d="M472 1163L526 1225"/>
</g>

<!-- Panel E nodes -->
<g id="e1-NR2F2"><use href="#ec" x="160" y="988"/><text class="el" x="159" y="1014.5">NR2F2</text></g>
<g id="e1-ISG15"><use href="#ec" x="234" y="988"/><text class="el" x="233" y="1014.5">ISG15</text></g>
<g id="e1-ISG20"><use href="#ec" x="108" y="1029"/><text class="el" x="107" y="1055.5">ISG20</text></g>
<g id="e1-hsa-mir-221-3p"><use href="#es" x="189" y="1052"/><text class="el" x="188" y="1079.5">hsa-mir-221-3p</text></g>
<g id="e1-DANT2"><use href="#et" x="282" y="1040"/><text class="el" x="281" y="1068.5">DANT2</text></g>
<g id="e1-SDC1"><use href="#ec" x="89" y="1102"/><text class="el" x="89" y="1128.5">SDC1</text></g>
<g id="e1-RASSF8-AS1"><use href="#et" x="278" y="1103"/><text class="el" x="276" y="1130.5">RASSF8-AS1</text></g>
<g id="e1-hsa-mir-222-3p"><use href="#es" x="187" y="1132"/><text class="el" x="186" y="1158.5">hsa-mir-222-3p</text></g>
<g id="e2-hsa-mir-181d-5p"><use href="#es" x="451" y="972"/><text class="el" x="450" y="998.5">hsa-mir-181d-5p</text></g>
<g id="e2-LIFR-AS1"><use href="#et" x="383" y="1023"/><text class="el" x="381" y="1051.5">LIFR-AS1</text></g>
<g id="e2-CXCL2"><use href="#ec" x="524" y="1021"/><text class="el" x="524" y="1047.5">CXCL2</text></g>
<g id="e3-LINC00943"><use href="#et" x="384" y="1122"/><text class="el" x="382" y="1148.5">LINC00943</text></g>
<g id="e3-FGFR1"><use href="#ec" x="527" y="1118"/><text class="el" x="526" y="1145.5">FGFR1</text></g>
<g id="e3-hsa-mir-205-5p"><use href="#es" x="472" y="1163"/><text class="el" x="472" y="1189.5">hsa-mir-205-5p</text></g>
<g id="e3-PRLR"><use href="#ec" x="526" y="1225"/><text class="el" x="526" y="1251.5">PRLR</text></g>

<!-- Panel D lower-triangle correlation matrix -->
<g id="corr-lower">
<g transform="translate(784.5,732) scale(24.9)">
<path fill="none" stroke="#d3d3d3" stroke-width=".045" d="M0 0H1M0 1H2M0 2H3M0 3H4M0 4H5M0 5H6M0 6H7M0 7H8M0 8H9M0 9H10M0 10H11M0 11H12M0 12H13M0 13H14M0 14H15M0 15H16M0 16H17M0 17H18M0 18H19M0 19H20M0 20H21M0 21H22M0 22H22M0 0V22M1 0V22M2 1V22M3 2V22M4 3V22M5 4V22M6 5V22M7 6V22M8 7V22M9 8V22M10 9V22M11 10V22M12 11V22M13 12V22M14 13V22M15 14V22M16 15V22M17 16V22M18 17V22M19 18V22M20 19V22M21 20V22M22 21V22"/>
<g class="dg"><circle cx=".5" cy=".5" r=".47"/><circle cx="1.5" cy="1.5" r=".47"/><circle cx="2.5" cy="2.5" r=".47"/><circle cx="3.5" cy="3.5" r=".47"/><circle cx="4.5" cy="4.5" r=".47"/><circle cx="5.5" cy="5.5" r=".47"/><circle cx="6.5" cy="6.5" r=".47"/><circle cx="7.5" cy="7.5" r=".47"/><circle cx="8.5" cy="8.5" r=".47"/><circle cx="9.5" cy="9.5" r=".47"/><circle cx="10.5" cy="10.5" r=".47"/><circle cx="11.5" cy="11.5" r=".47"/><circle cx="12.5" cy="12.5" r=".47"/><circle cx="13.5" cy="13.5" r=".47"/><circle cx="14.5" cy="14.5" r=".47"/><circle cx="15.5" cy="15.5" r=".47"/><circle cx="16.5" cy="16.5" r=".47"/><circle cx="17.5" cy="17.5" r=".47"/><circle cx="18.5" cy="18.5" r=".47"/><circle cx="19.5" cy="19.5" r=".47"/><circle cx="20.5" cy="20.5" r=".47"/><circle cx="21.5" cy="21.5" r=".47"/></g>
<circle class="p25" cx="1.5" cy="2.5" r=".235"/>
<circle class="p45" cx="2.5" cy="4.5" r=".315"/>
<circle class="p25" cx="2.5" cy="5.5" r=".235"/><circle class="p40" cx="4.5" cy="5.5" r=".297"/>
<circle class="p25" cx=".5" cy="6.5" r=".235"/>
<circle class="p30" cx="2.5" cy="7.5" r=".257"/><circle class="p40" cx="4.5" cy="7.5" r=".297"/><circle class="p45" cx="5.5" cy="7.5" r=".315"/>
<circle class="n30" cx="2.5" cy="8.5" r=".257"/>
<circle class="p45" cx="3.5" cy="9.5" r=".315"/>
<circle class="p25" cx=".5" cy="10.5" r=".235"/><circle class="n20" cx="3.5" cy="10.5" r=".21"/><circle class="p40" cx="6.5" cy="10.5" r=".297"/><circle class="n25" cx="8.5" cy="10.5" r=".235"/>
<circle class="n25" cx=".5" cy="11.5" r=".235"/><circle class="n30" cx="2.5" cy="11.5" r=".257"/><circle class="n20" cx="6.5" cy="11.5" r=".21"/><circle class="n20" cx="7.5" cy="11.5" r=".21"/><circle class="p45" cx="8.5" cy="11.5" r=".315"/><circle class="n30" cx="10.5" cy="11.5" r=".257"/>
<circle class="p45" cx="8.5" cy="12.5" r=".315"/><circle class="n30" cx="10.5" cy="12.5" r=".257"/><circle class="p30" cx="11.5" cy="12.5" r=".257"/>
<circle class="p25" cx="8.5" cy="13.5" r=".235"/><circle class="n25" cx="10.5" cy="13.5" r=".235"/><circle class="p25" cx="11.5" cy="13.5" r=".235"/><circle class="p30" cx="12.5" cy="13.5" r=".257"/>
<circle class="p45" cx="8.5" cy="14.5" r=".315"/><circle class="n25" cx="10.5" cy="14.5" r=".235"/><circle class="p25" cx="11.5" cy="14.5" r=".235"/><circle class="p60" cx="12.5" cy="14.5" r=".364"/><circle class="p35" cx="13.5" cy="14.5" r=".278"/>
<circle class="n25" cx="2.5" cy="15.5" r=".235"/><circle class="n25" cx="4.5" cy="15.5" r=".235"/><circle class="n25" cx="5.5" cy="15.5" r=".235"/><circle class="n25" cx="7.5" cy="15.5" r=".235"/><circle class="p25" cx="8.5" cy="15.5" r=".235"/><circle class="n30" cx="10.5" cy="15.5" r=".257"/><circle class="p40" cx="13.5" cy="15.5" r=".297"/><circle class="p30" cx="14.5" cy="15.5" r=".257"/>
<circle class="p40" cx="2.5" cy="16.5" r=".297"/><circle class="p55" cx="4.5" cy="16.5" r=".349"/><circle class="p55" cx="5.5" cy="16.5" r=".349"/><circle class="p55" cx="7.5" cy="16.5" r=".349"/><circle class="p25" cx="10.5" cy="16.5" r=".235"/><circle class="n30" cx="11.5" cy="16.5" r=".257"/><circle class="n20" cx="15.5" cy="16.5" r=".21"/>
<circle class="n20" cx="6.5" cy="17.5" r=".21"/><circle class="n20" cx="10.5" cy="17.5" r=".21"/><circle class="p30" cx="11.5" cy="17.5" r=".257"/>
<circle class="p25" cx="2.5" cy="18.5" r=".235"/><circle class="n25" cx="8.5" cy="18.5" r=".235"/><circle class="n35" cx="11.5" cy="18.5" r=".278"/><circle class="n20" cx="14.5" cy="18.5" r=".21"/>
<circle class="p30" cx="1.5" cy="19.5" r=".257"/><circle class="p45" cx="2.5" cy="19.5" r=".315"/><circle class="p25" cx="4.5" cy="19.5" r=".235"/><circle class="p40" cx="5.5" cy="19.5" r=".297"/><circle class="p25" cx="7.5" cy="19.5" r=".235"/><circle class="n25" cx="8.5" cy="19.5" r=".235"/><circle class="p50" cx="10.5" cy="19.5" r=".332"/><circle class="n30" cx="11.5" cy="19.5" r=".257"/><circle class="n20" cx="13.5" cy="19.5" r=".21"/><circle class="n20" cx="15.5" cy="19.5" r=".21"/><circle class="p55" cx="16.5" cy="19.5" r=".349"/><circle class="p25" cx="18.5" cy="19.5" r=".235"/>
<circle class="p25" cx="1.5" cy="20.5" r=".235"/><circle class="p45" cx="2.5" cy="20.5" r=".315"/><circle class="p25" cx="4.5" cy="20.5" r=".235"/><circle class="p40" cx="5.5" cy="20.5" r=".297"/><circle class="p35" cx="7.5" cy="20.5" r=".278"/><circle class="n25" cx="8.5" cy="20.5" r=".235"/><circle class="p50" cx="10.5" cy="20.5" r=".332"/><circle class="n30" cx="11.5" cy="20.5" r=".257"/><circle class="n20" cx="13.5" cy="20.5" r=".21"/><circle class="n20" cx="15.5" cy="20.5" r=".21"/><circle class="p55" cx="16.5" cy="20.5" r=".349"/><circle class="p20" cx="18.5" cy="20.5" r=".21"/><circle class="p95" cx="19.5" cy="20.5" r=".458"/>
<circle class="p25" cx="3.5" cy="21.5" r=".235"/><circle class="n25" cx="10.5" cy="21.5" r=".235"/><circle class="p25" cx="11.5" cy="21.5" r=".235"/><circle class="p40" cx="13.5" cy="21.5" r=".297"/><circle class="p25" cx="14.5" cy="21.5" r=".235"/><circle class="p30" cx="15.5" cy="21.5" r=".257"/>
<path fill="none" stroke="#000" stroke-width=".085" d="M0.06 1.06l.88.88m0-.88l-.88.88M0.06 2.06l.88.88m0-.88l-.88.88M0.06 3.06l.88.88m0-.88l-.88.88M1.06 3.06l.88.88m0-.88l-.88.88M2.06 3.06l.88.88m0-.88l-.88.88M0.06 4.06l.88.88m0-.88l-.88.88M1.06 4.06l.88.88m0-.88l-.88.88M3.06 4.06l.88.88m0-.88l-.88.88M0.06 5.06l.88.88m0-.88l-.88.88M1.06 5.06l.88.88m0-.88l-.88.88M3.06 5.06l.88.88m0-.88l-.88.88M1.06 6.06l.88.88m0-.88l-.88.88M2.06 6.06l.88.88m0-.88l-.88.88M3.06 6.06l.88.88m0-.88l-.88.88M4.06 6.06l.88.88m0-.88l-.88.88M5.06 6.06l.88.88m0-.88l-.88.88M0.06 7.06l.88.88m0-.88l-.88.88M1.06 7.06l.88.88m0-.88l-.88.88M3.06 7.06l.88.88m0-.88l-.88.88M6.06 7.06l.88.88m0-.88l-.88.88M0.06 8.06l.88.88m0-.88l-.88.88M1.06 8.06l.88.88m0-.88l-.88.88M3.06 8.06l.88.88m0-.88l-.88.88M4.06 8.06l.88.88m0-.88l-.88.88M5.06 8.06l.88.88m0-.88l-.88.88M6.06 8.06l.88.88m0-.88l-.88.88M7.06 8.06l.88.88m0-.88l-.88.88M0.06 9.06l.88.88m0-.88l-.88.88M1.06 9.06l.88.88m0-.88l-.88.88M2.06 9.06l.88.88m0-.88l-.88.88M4.06 9.06l.88.88m0-.88l-.88.88M5.06 9.06l.88.88m0-.88l-.88.88M6.06 9.06l.88.88m0-.88l-.88.88M7.06 9.06l.88.88m0-.88l-.88.88M8.06 9.06l.88.88m0-.88l-.88.88M1.06 10.06l.88.88m0-.88l-.88.88M2.06 10.06l.88.88m0-.88l-.88.88M4.06 10.06l.88.88m0-.88l-.88.88M5.06 10.06l.88.88m0-.88l-.88.88M7.06 10.06l.88.88m0-.88l-.88.88M9.06 10.06l.88.88m0-.88l-.88.88M1.06 11.06l.88.88m0-.88l-.88.88M3.06 11.06l.88.88m0-.88l-.88.88M4.06 11.06l.88.88m0-.88l-.88.88M5.06 11.06l.88.88m0-.88l-.88.88M9.06 11.06l.88.88m0-.88l-.88.88M0.06 12.06l.88.88m0-.88l-.88.88M1.06 12.06l.88.88m0-.88l-.88.88M2.06 12.06l.88.88m0-.88l-.88.88M3.06 12.06l.88.88m0-.88l-.88.88M4.06 12.06l.88.88m0-.88l-.88.88M5.06 12.06l.88.88m0-.88l-.88.88M6.06 12.06l.88.88m0-.88l-.88.88M7.06 12.06l.88.88m0-.88l-.88.88M9.06 12.06l.88.88m0-.88l-.88.88M0.06 13.06l.88.88m0-.88l-.88.88M1.06 13.06l.88.88m0-.88l-.88.88M2.06 13.06l.88.88m0-.88l-.88.88M3.06 13.06l.88.88m0-.88l-.88.88M4.06 13.06l.88.88m0-.88l-.88.88M5.06 13.06l.88.88m0-.88l-.88.88M6.06 13.06l.88.88m0-.88l-.88.88M7.06 13.06l.88.88m0-.88l-.88.88M9.06 13.06l.88.88m0-.88l-.88.88M0.06 14.06l.88.88m0-.88l-.88.88M1.06 14.06l.88.88m0-.88l-.88.88M2.06 14.06l.88.88m0-.88l-.88.88M3.06 14.06l.88.88m0-.88l-.88.88M4.06 14.06l.88.88m0-.88l-.88.88M5.06 14.06l.88.88m0-.88l-.88.88M6.06 14.06l.88.88m0-.88l-.88.88M7.06 14.06l.88.88m0-.88l-.88.88M9.06 14.06l.88.88m0-.88l-.88.88M0.06 15.06l.88.88m0-.88l-.88.88M1.06 15.06l.88.88m0-.88l-.88.88M3.06 15.06l.88.88m0-.88l-.88.88M6.06 15.06l.88.88m0-.88l-.88.88M9.06 15.06l.88.88m0-.88l-.88.88M11.06 15.06l.88.88m0-.88l-.88.88M12.06 15.06l.88.88m0-.88l-.88.88M0.06 16.06l.88.88m0-.88l-.88.88M1.06 16.06l.88.88m0-.88l-.88.88M3.06 16.06l.88.88m0-.88l-.88.88M6.06 16.06l.88.88m0-.88l-.88.88M8.06 16.06l.88.88m0-.88l-.88.88M9.06 16.06l.88.88m0-.88l-.88.88M12.06 16.06l.88.88m0-.88l-.88.88M13.06 16.06l.88.88m0-.88l-.88.88M14.06 16.06l.88.88m0-.88l-.88.88M0.06 17.06l.88.88m0-.88l-.88.88M1.06 17.06l.88.88m0-.88l-.88.88M2.06 17.06l.88.88m0-.88l-.88.88M3.06 17.06l.88.88m0-.88l-.88.88M4.06 17.06l.88.88m0-.88l-.88.88M5.06 17.06l.88.88m0-.88l-.88.88M7.06 17.06l.88.88m0-.88l-.88.88M8.06 17.06l.88.88m0-.88l-.88.88M9.06 17.06l.88.88m0-.88l-.88.88M12.06 17.06l.88.88m0-.88l-.88.88M13.06 17.06l.88.88m0-.88l-.88.88M14.06 17.06l.88.88m0-.88l-.88.88M15.06 17.06l.88.88m0-.88l-.88.88M16.06 17.06l.88.88m0-.88l-.88.88M0.06 18.06l.88.88m0-.88l-.88.88M1.06 18.06l.88.88m0-.88l-.88.88M3.06 18.06l.88.88m0-.88l-.88.88M4.06 18.06l.88.88m0-.88l-.88.88M5.06 18.06l.88.88m0-.88l-.88.88M6.06 18.06l.88.88m0-.88l-.88.88M7.06 18.06l.88.88m0-.88l-.88.88M9.06 18.06l.88.88m0-.88l-.88.88M10.06 18.06l.88.88m0-.88l-.88.88M12.06 18.06l.88.88m0-.88l-.88.88M13.06 18.06l.88.88m0-.88l-.88.88M15.06 18.06l.88.88m0-.88l-.88.88M16.06 18.06l.88.88m0-.88l-.88.88M17.06 18.06l.88.88m0-.88l-.88.88M0.06 19.06l.88.88m0-.88l-.88.88M3.06 19.06l.88.88m0-.88l-.88.88M6.06 19.06l.88.88m0-.88l-.88.88M9.06 19.06l.88.88m0-.88l-.88.88M12.06 19.06l.88.88m0-.88l-.88.88M14.06 19.06l.88.88m0-.88l-.88.88M17.06 19.06l.88.88m0-.88l-.88.88M0.06 20.06l.88.88m0-.88l-.88.88M3.06 20.06l.88.88m0-.88l-.88.88M6.06 20.06l.88.88m0-.88l-.88.88M9.06 20.06l.88.88m0-.88l-.88.88M12.06 20.06l.88.88m0-.88l-.88.88M14.06 20.06l.88.88m0-.88l-.88.88M17.06 20.06l.88.88m0-.88l-.88.88M0.06 21.06l.88.88m0-.88l-.88.88M1.06 21.06l.88.88m0-.88l-.88.88M2.06 21.06l.88.88m0-.88l-.88.88M4.06 21.06l.88.88m0-.88l-.88.88M5.06 21.06l.88.88m0-.88l-.88.88M6.06 21.06l.88.88m0-.88l-.88.88M7.06 21.06l.88.88m0-.88l-.88.88M8.06 21.06l.88.88m0-.88l-.88.88M9.06 21.06l.88.88m0-.88l-.88.88M12.06 21.06l.88.88m0-.88l-.88.88M16.06 21.06l.88.88m0-.88l-.88.88M17.06 21.06l.88.88m0-.88l-.88.88M18.06 21.06l.88.88m0-.88l-.88.88M19.06 21.06l.88.88m0-.88l-.88.88M20.06 21.06l.88.88m0-.88l-.88.88"/>
</g>
<g class="de">
<text x="779" y="749.5">EGFR</text><text x="779" y="774.4">ADM</text><text x="779" y="799.3">ISG15</text><text x="779" y="824.2">CXCL2</text><text x="779" y="849.1">ISG20</text><text x="779" y="874">IDO1</text><text x="779" y="898.9">BMP7</text><text x="779" y="923.8">CXCL10</text><text x="779" y="948.7">PRLR</text><text x="779" y="973.6">CXCL1</text><text x="779" y="998.5">SDC1</text><text x="779" y="1023.4">NR2F2</text><text x="779" y="1048.3">LIFR</text><text x="779" y="1073.2">RASSF8-AS1</text><text x="779" y="1098.1">LIFR-AS1</text><text x="779" y="1123">DANT2</text><text x="779" y="1147.9">hsa-miR-342-3p</text><text x="779" y="1172.8">hsa-miR-194-5p</text><text x="779" y="1197.7">hsa-miR-27a-3p</text><text x="779" y="1222.6">hsa-miR-222-3p</text><text x="779" y="1247.5">hsa-miR-221-3p</text><text x="779" y="1272.4">hsa-miR-181d-5p</text>
</g>
<g class="dl">
<text transform="translate(802,728) rotate(-90)">EGFR</text><text transform="translate(826.9,752.9) rotate(-90)">ADM</text><text transform="translate(851.8,777.8) rotate(-90)">ISG15</text><text transform="translate(876.7,802.7) rotate(-90)">CXCL2</text><text transform="translate(901.6,827.6) rotate(-90)">ISG20</text><text transform="translate(926.5,852.5) rotate(-90)">IDO1</text><text transform="translate(951.4,877.4) rotate(-90)">BMP7</text><text transform="translate(976.3,902.3) rotate(-90)">CXCL10</text><text transform="translate(1001.2,927.2) rotate(-90)">PRLR</text><text transform="translate(1026.1,952.1) rotate(-90)">CXCL1</text><text transform="translate(1051,977) rotate(-90)">SDC1</text><text transform="translate(1075.9,1001.9) rotate(-90)">NR2F2</text><text transform="translate(1100.8,1026.8) rotate(-90)">LIFR</text><text transform="translate(1125.7,1051.7) rotate(-90)">RASSF8-AS1</text><text transform="translate(1150.6,1076.6) rotate(-90)">LIFR-AS1</text><text transform="translate(1175.5,1101.5) rotate(-90)">DANT2</text><text transform="translate(1200.4,1126.4) rotate(-90)">hsa-miR-342-3p</text><text transform="translate(1225.3,1151.3) rotate(-90)">hsa-miR-194-5p</text><text transform="translate(1250.2,1176.2) rotate(-90)">hsa-miR-27a-3p</text><text transform="translate(1275.1,1201.1) rotate(-90)">hsa-miR-222-3p</text><text transform="translate(1300,1226) rotate(-90)">hsa-miR-221-3p</text><text transform="translate(1324.9,1250.9) rotate(-90)">hsa-miR-181d-5p</text>
</g>
<g id="colorbar-h">
<rect x="785" y="1291" width="548" height="22" fill="url(#gh)"/>
<path stroke="#333" stroke-width="1" d="M785.5 1313v4M839.8 1313v4M894.6 1313v4M949.4 1313v4M1004.2 1313v4M1059 1313v4M1113.8 1313v4M1168.6 1313v4M1223.4 1313v4M1278.2 1313v4M1332.5 1313v4"/>
<g class="tc"><text x="785" y="1340">-1</text><text x="839.8" y="1340">-0.8</text><text x="894.6" y="1340">-0.6</text><text x="949.4" y="1340">-0.4</text><text x="1004.2" y="1340">-0.2</text><text x="1059" y="1340">0</text><text x="1113.8" y="1340">0.2</text><text x="1168.6" y="1340">0.4</text><text x="1223.4" y="1340">0.6</text><text x="1278.2" y="1340">0.8</text><text x="1331" y="1340">1</text></g>
</g>
</g>

<!-- Panel D upper-triangle correlation matrix -->
<g id="corr-upper">
<g transform="translate(1058.5,759.5) scale(25.1)">
<path fill="none" stroke="#d3d3d3" stroke-width=".045" d="M0 0H10M0 1H10M1 2H10M2 3H10M3 4H10M4 5H10M5 6H10M6 7H10M7 8H10M8 9H10M9 10H10M0 0V1M1 0V2M2 0V3M3 0V4M4 0V5M5 0V6M6 0V7M7 0V8M8 0V9M9 0V10M10 0V10"/>
<g class="dg"><circle cx=".5" cy=".5" r=".47"/><circle cx="1.5" cy="1.5" r=".47"/><circle cx="2.5" cy="2.5" r=".47"/><circle cx="3.5" cy="3.5" r=".47"/><circle cx="4.5" cy="4.5" r=".47"/><circle cx="5.5" cy="5.5" r=".47"/><circle cx="6.5" cy="6.5" r=".47"/><circle cx="7.5" cy="7.5" r=".47"/><circle cx="8.5" cy="8.5" r=".47"/><circle cx="9.5" cy="9.5" r=".47"/></g>
<circle class="p40" cx="3.5" cy=".5" r=".297"/><circle class="p25" cx="4.5" cy=".5" r=".235"/><circle class="p25" cx="5.5" cy=".5" r=".235"/>
<circle class="p30" cx="4.5" cy="2.5" r=".257"/><circle class="n25" cx="8.5" cy="2.5" r=".235"/>
<circle class="p40" cx="4.5" cy="3.5" r=".297"/><circle class="p20" cx="6.5" cy="3.5" r=".21"/><circle class="n30" cx="8.5" cy="3.5" r=".257"/>
<circle class="n20" cx="5.5" cy="4.5" r=".21"/><circle class="p25" cx="7.5" cy="4.5" r=".235"/><circle class="n40" cx="8.5" cy="4.5" r=".297"/><circle class="p25" cx="9.5" cy="4.5" r=".235"/>
<circle class="p25" cx="8.5" cy="5.5" r=".235"/>
<circle class="p25" cx="7.5" cy="6.5" r=".235"/>
<circle class="n20" cx="8.5" cy="7.5" r=".21"/><circle class="p35" cx="9.5" cy="7.5" r=".278"/>
<circle class="p30" cx="9.5" cy="8.5" r=".257"/>
<path fill="none" stroke="#000" stroke-width=".085" d="M1.06 0.06l.88.88m0-.88l-.88.88M2.06 0.06l.88.88m0-.88l-.88.88M6.06 0.06l.88.88m0-.88l-.88.88M7.06 0.06l.88.88m0-.88l-.88.88M8.06 0.06l.88.88m0-.88l-.88.88M9.06 0.06l.88.88m0-.88l-.88.88M2.06 1.06l.88.88m0-.88l-.88.88M3.06 1.06l.88.88m0-.88l-.88.88M4.06 1.06l.88.88m0-.88l-.88.88M5.06 1.06l.88.88m0-.88l-.88.88M6.06 1.06l.88.88m0-.88l-.88.88M7.06 1.06l.88.88m0-.88l-.88.88M8.06 1.06l.88.88m0-.88l-.88.88M9.06 1.06l.88.88m0-.88l-.88.88M3.06 2.06l.88.88m0-.88l-.88.88M5.06 2.06l.88.88m0-.88l-.88.88M6.06 2.06l.88.88m0-.88l-.88.88M7.06 2.06l.88.88m0-.88l-.88.88M9.06 2.06l.88.88m0-.88l-.88.88M5.06 3.06l.88.88m0-.88l-.88.88M7.06 3.06l.88.88m0-.88l-.88.88M9.06 3.06l.88.88m0-.88l-.88.88M6.06 4.06l.88.88m0-.88l-.88.88M6.06 5.06l.88.88m0-.88l-.88.88M7.06 5.06l.88.88m0-.88l-.88.88M9.06 5.06l.88.88m0-.88l-.88.88M8.06 6.06l.88.88m0-.88l-.88.88M9.06 6.06l.88.88m0-.88l-.88.88"/>
</g>
<g class="de">
<text x="1052.5" y="777">LIFR</text><text x="1077.6" y="802.2">MMP9</text><text x="1102.7" y="827.3">NR4A1</text><text x="1127.8" y="852.4">PRLR</text><text x="1152.9" y="877.5">FGFR1</text><text x="1178" y="902.6">LINC00943</text><text x="1203.1" y="927.7">hsa-miR-15b-5p</text><text x="1228.2" y="952.8">hsa-miR-196a-5p</text><text x="1253.3" y="977.9">hsa-miR-205-5p</text><text x="1278.4" y="1003">hsa-miR-99b-5p</text>
</g>
<g class="dl">
<text transform="translate(1076,754.5) rotate(-90)">LIFR</text><text transform="translate(1101.2,754.5) rotate(-90)">MMP9</text><text transform="translate(1126.3,754.5) rotate(-90)">NR4A1</text><text transform="translate(1151.4,754.5) rotate(-90)">PRLR</text><text transform="translate(1176.5,754.5) rotate(-90)">FGFR1</text><text transform="translate(1201.6,754.5) rotate(-90)">LINC00943</text><text transform="translate(1226.7,754.5) rotate(-90)">hsa-miR-15b-5p</text><text transform="translate(1251.8,754.5) rotate(-90)">hsa-miR-196a-5p</text><text transform="translate(1276.9,754.5) rotate(-90)">hsa-miR-205-5p</text><text transform="translate(1302,754.5) rotate(-90)">hsa-miR-99b-5p</text>
</g>
<g id="colorbar-v">
<rect x="1313" y="759.5" width="11" height="251" fill="url(#gv)"/>
<path stroke="#333" stroke-width="1" d="M1324 760h3M1324 784.6h3M1324 809.7h3M1324 834.8h3M1324 859.9h3M1324 885h3M1324 910.1h3M1324 935.2h3M1324 960.3h3M1324 985.4h3M1324 1010h3"/>
<g class="tk"><text x="1328" y="764">1</text><text x="1328" y="788.6">0.8</text><text x="1328" y="813.7">0.6</text><text x="1328" y="838.8">0.4</text><text x="1328" y="863.9">0.2</text><text x="1328" y="889">0</text><text x="1328" y="914.1">-0.2</text><text x="1328" y="939.2">-0.4</text><text x="1328" y="964.3">-0.6</text><text x="1328" y="989.4">-0.8</text><text x="1328" y="1014">-1</text></g>
</g>
</g>
</svg>
